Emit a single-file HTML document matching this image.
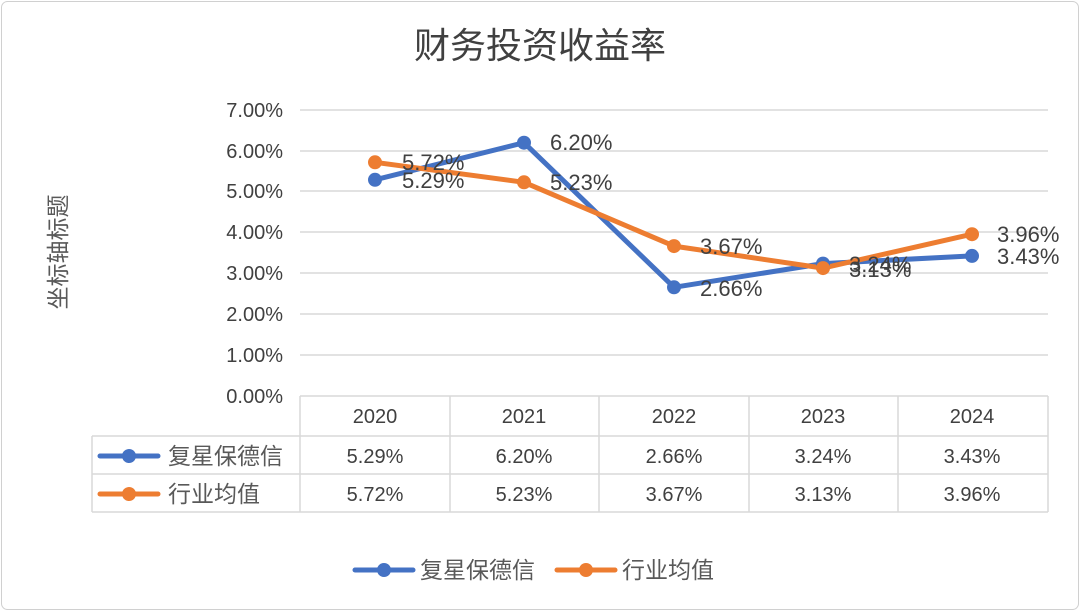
<!DOCTYPE html><html><head><meta charset="utf-8"><style>body{margin:0;background:#fff}svg{display:block}text{font-family:"Liberation Sans","Noto Sans CJK SC",sans-serif}</style></head><body>
<svg width="1080" height="611" viewBox="0 0 1080 611">
<rect x="1.5" y="1.5" width="1077" height="608" rx="6" fill="#fff" stroke="#d0d0d0"/>
<text x="540" y="58" text-anchor="middle" font-size="36" fill="#404040">财务投资收益率</text>
<text transform="translate(66,252) rotate(-90)" text-anchor="middle" font-size="23" fill="#595959">坐标轴标题</text>
<g stroke="#d9d9d9" stroke-width="1.5">
<line x1="300" y1="110" x2="1048" y2="110"/><line x1="300" y1="151" x2="1048" y2="151"/><line x1="300" y1="191" x2="1048" y2="191"/><line x1="300" y1="232" x2="1048" y2="232"/><line x1="300" y1="273" x2="1048" y2="273"/><line x1="300" y1="314" x2="1048" y2="314"/><line x1="300" y1="355" x2="1048" y2="355"/>
<line x1="300" y1="396" x2="1048" y2="396"/><line x1="92" y1="436" x2="1048" y2="436"/><line x1="92" y1="474" x2="1048" y2="474"/><line x1="92" y1="512" x2="1048" y2="512"/>
<line x1="92" y1="436" x2="92" y2="512"/><line x1="300" y1="396" x2="300" y2="512"/><line x1="450" y1="396" x2="450" y2="512"/><line x1="599" y1="396" x2="599" y2="512"/><line x1="749" y1="396" x2="749" y2="512"/><line x1="898" y1="396" x2="898" y2="512"/><line x1="1048" y1="396" x2="1048" y2="512"/>
</g>
<g font-size="20" fill="#404040" text-anchor="end">
<text x="283" y="117">7.00%</text><text x="283" y="158">6.00%</text><text x="283" y="198">5.00%</text><text x="283" y="239">4.00%</text><text x="283" y="280">3.00%</text><text x="283" y="321">2.00%</text><text x="283" y="362">1.00%</text><text x="283" y="403">0.00%</text>
</g>
<g font-size="20" fill="#404040" text-anchor="middle">
<text x="375" y="423">2020</text><text x="524" y="423">2021</text><text x="674" y="423">2022</text><text x="823" y="423">2023</text><text x="972" y="423">2024</text>
<text x="375" y="463">5.29%</text><text x="524" y="463">6.20%</text><text x="674" y="463">2.66%</text><text x="823" y="463">3.24%</text><text x="972" y="463">3.43%</text>
<text x="375" y="501">5.72%</text><text x="524" y="501">5.23%</text><text x="674" y="501">3.67%</text><text x="823" y="501">3.13%</text><text x="972" y="501">3.96%</text>
</g>
<g font-size="23" fill="#595959">
<text x="168" y="464">复星保德信</text><text x="168" y="502">行业均值</text>
<text x="420" y="578">复星保德信</text><text x="622" y="578">行业均值</text>
</g>
<g stroke-width="5" stroke-linecap="round">
<line x1="100" y1="456" x2="158" y2="456" stroke="#4472c4"/><circle cx="129" cy="456" r="7" fill="#4472c4"/>
<line x1="100" y1="494" x2="158" y2="494" stroke="#ed7d31"/><circle cx="129" cy="494" r="7" fill="#ed7d31"/>
<line x1="355" y1="570" x2="413" y2="570" stroke="#4472c4"/><circle cx="384" cy="570" r="7" fill="#4472c4"/>
<line x1="557" y1="570" x2="615" y2="570" stroke="#ed7d31"/><circle cx="586" cy="570" r="7" fill="#ed7d31"/>
</g>
<polyline points="375,179.8 524,142.7 674,287.3 823,263.6 972,255.9" fill="none" stroke="#4472c4" stroke-width="5" stroke-linejoin="round"/>
<polyline points="375,162.3 524,182.3 674,246.1 823,268.1 972,234.2" fill="none" stroke="#ed7d31" stroke-width="5" stroke-linejoin="round"/>
<g fill="#4472c4"><circle cx="375" cy="179.8" r="7"/><circle cx="524" cy="142.7" r="7"/><circle cx="674" cy="287.3" r="7"/><circle cx="823" cy="263.6" r="7"/><circle cx="972" cy="255.9" r="7"/></g>
<g fill="#ed7d31"><circle cx="375" cy="162.3" r="7"/><circle cx="524" cy="182.3" r="7"/><circle cx="674" cy="246.1" r="7"/><circle cx="823" cy="268.1" r="7"/><circle cx="972" cy="234.2" r="7"/></g>
<g font-size="22" fill="#404040">
<text x="402" y="188">5.29%</text><text x="550" y="150">6.20%</text><text x="700" y="296">2.66%</text><text x="849" y="272">3.24%</text><text x="997" y="264">3.43%</text>
<text x="402" y="170">5.72%</text><text x="550" y="190">5.23%</text><text x="700" y="254">3.67%</text><text x="849" y="277">3.13%</text><text x="997" y="242">3.96%</text>
</g>
</svg></body></html>
